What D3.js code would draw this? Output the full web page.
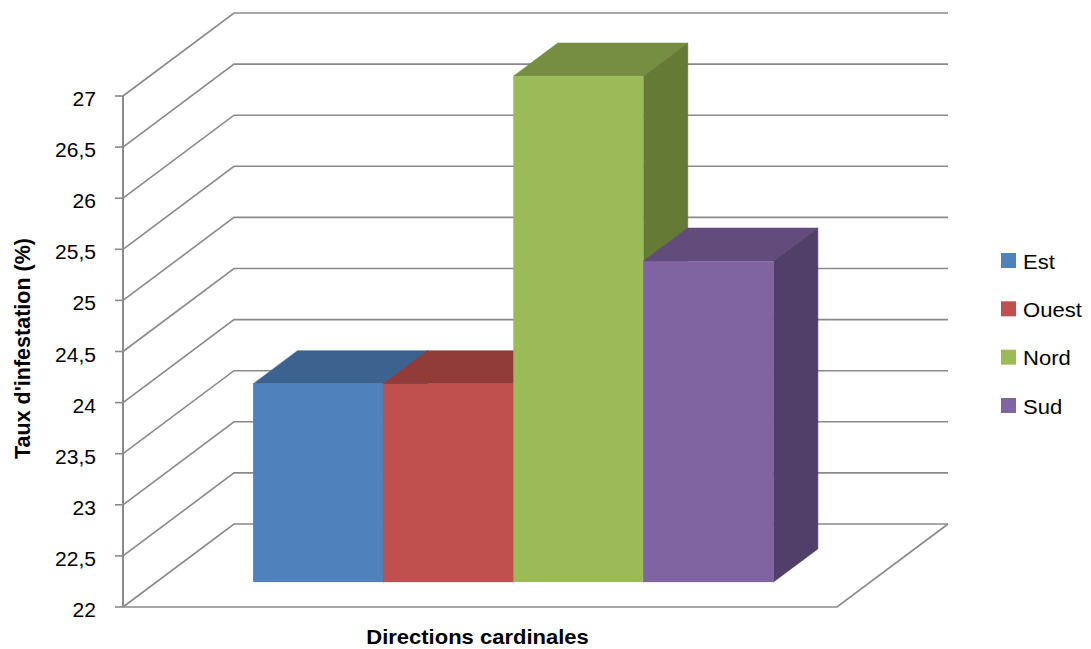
<!DOCTYPE html>
<html>
<head>
<meta charset="utf-8">
<script src="https://cdn.jsdelivr.net/npm/d3@7"></script>
<style>
  html, body { margin: 0; padding: 0; background: #fff; }
  svg { display: block; }
</style>
</head>
<body>
<svg id="chart" width="1091" height="649"></svg>
<script>
// ---- data ----
const categories = ["Directions cardinales"];
const seriesNames = ["Est", "Ouest", "Nord", "Sud"];
const seriesValues = [23.94, 23.94, 26.95, 25.14];
const yTicks = [22, 22.5, 23, 23.5, 24, 24.5, 25, 25.5, 26, 26.5, 27];
const yTitle = "Taux d'infestation (%)";
const xTitle = "Directions cardinales";

// ---- styles ----
const colors = {
  Est:   { front: "#4F81BD", top: "#3C628F", side: "#33547B" },
  Ouest: { front: "#C0504D", top: "#923C3A", side: "#7E3331" },
  Nord:  { front: "#9BBB59", top: "#768E42", side: "#647A35" },
  Sud:   { front: "#8064A2", top: "#614C7B", side: "#523F69" }
};
const gridColor = "#8a8a8a";
const fontFamily = "'Liberation Sans', Arial, sans-serif";

const svg = d3.select("#chart");

// ---- scales / projection ----
const y = d3.scaleLinear().domain([22, 27]).range([607, 96]);
const DX = 111, DY = -83;                       // full depth offset
const depth = d3.scaleLinear().domain([0, 1]).range([0, 1]);
const x0 = d3.scaleBand().domain(categories).range([123, 837]).paddingInner(0).paddingOuter(0.186);
const x1 = d3.scaleBand().domain(seriesNames).range([0, x0.bandwidth()]).padding(0);
const P = (x, v, z) => [x + depth(z) * DX, y(v) + depth(z) * DY];
const fmt = d3.formatLocale({ decimal: ",", thousands: " ", grouping: [3], currency: ["", "€"] }).format("~g");

const [vMin, vMax] = y.domain();
const g = svg.append("g");

// back wall gridlines + side wall diagonals
yTicks.forEach(v => {
  const a = P(123, v, 0), b = P(123, v, 1), c = P(837, v, 1);
  g.append("path")
    .attr("d", d3.line()([a, b, c]))
    .attr("fill", "none").attr("stroke", gridColor).attr("stroke-width", 1.6);
});

// floor (front edge + right edge)
g.append("path")
  .attr("d", d3.line()([P(123, vMin, 0), P(837, vMin, 0), P(837, vMin, 1)]))
  .attr("fill", "none").attr("stroke", gridColor).attr("stroke-width", 1.6);

// vertical axis line
g.append("line")
  .attr("x1", 123).attr("x2", 123).attr("y1", y(vMax)).attr("y2", y(vMin))
  .attr("stroke", gridColor).attr("stroke-width", 2);

// ticks and labels
yTicks.forEach(v => {
  g.append("line")
    .attr("x1", 115).attr("x2", 123).attr("y1", y(v)).attr("y2", y(v))
    .attr("stroke", gridColor).attr("stroke-width", 1.6);
  g.append("text")
    .attr("transform", `translate(96,${y(v) + 10}) scale(1.08,1)`)
    .attr("text-anchor", "end")
    .attr("font-family", fontFamily).attr("font-size", 19.5).attr("fill", "#000")
    .text(fmt(v));
});

// bars
const zF = 0.3, zB = 0.7;
seriesNames.forEach((s, i) => {
  const v = seriesValues[i];
  const xl = x0(categories[0]) + x1(s);
  const xr = xl + x1.bandwidth();
  const c = colors[s];
  const bg = g.append("g");
  // top face
  bg.append("path")
    .attr("d", d3.line()([P(xl, v, zF), P(xr, v, zF), P(xr, v, zB), P(xl, v, zB)]) + "Z")
    .attr("fill", c.top).attr("stroke", c.top).attr("stroke-width", 0.5);
  // right side face
  bg.append("path")
    .attr("d", d3.line()([P(xr, vMin, zF), P(xr, v, zF), P(xr, v, zB), P(xr, vMin, zB)]) + "Z")
    .attr("fill", c.side).attr("stroke", c.side).attr("stroke-width", 0.5);
  // front face
  const [fx, fy] = P(xl, v, zF);
  const [, by] = P(xl, vMin, zF);
  bg.append("rect")
    .attr("x", fx).attr("y", fy).attr("width", xr - xl).attr("height", by - fy)
    .attr("fill", c.front);
});

// axis titles
svg.append("text")
  .attr("transform", `translate(30,${348.5}) rotate(-90)`)
  .attr("text-anchor", "middle")
  .attr("font-family", fontFamily).attr("font-weight", "bold").attr("font-size", 21.5)
  .text(yTitle);

svg.append("text")
  .attr("transform", `translate(477.5,644) scale(1.1,1)`)
  .attr("text-anchor", "middle")
  .attr("font-family", fontFamily).attr("font-weight", "bold").attr("font-size", 20)
  .text(xTitle);

// legend
const lg = svg.append("g");
const legendTop = d3.scalePoint().domain(seriesNames).range([253, 398]);
seriesNames.forEach(s => {
  lg.append("rect")
    .attr("x", 1001).attr("y", legendTop(s)).attr("width", 15).attr("height", 15)
    .attr("fill", colors[s].front);
  lg.append("text")
    .attr("transform", `translate(1023,${legendTop(s) + 15.5}) scale(1.13,1)`)
    .attr("font-family", fontFamily).attr("font-size", 19.5).attr("fill", "#000")
    .text(s);
});
</script>
</body>
</html>
